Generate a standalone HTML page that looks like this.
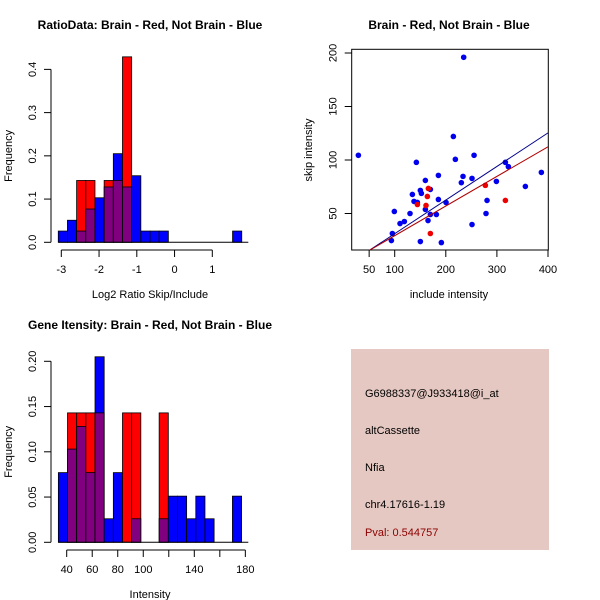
<!DOCTYPE html>
<html><head><meta charset="utf-8"><style>
body{margin:0;background:#fff}
svg{display:block;font-family:"Liberation Sans",sans-serif}
</style></head><body>
<svg id="c" width="600" height="600" viewBox="0 0 600 600">
<rect x="0" y="0" width="600" height="600" fill="#fff"/>
<text x="150" y="29" font-size="12" font-weight="bold" text-anchor="middle">RatioData: Brain - Red, Not Brain - Blue</text>
<text x="449" y="29" font-size="12" font-weight="bold" text-anchor="middle">Brain - Red, Not Brain - Blue</text>
<text x="150" y="329" font-size="12" font-weight="bold" text-anchor="middle">Gene Itensity: Brain - Red, Not Brain - Blue</text>
<g id="p1"></g>
<g id="p2"></g>
<g id="p3"></g>
<g>
<rect x="351" y="349" width="198" height="201" fill="#e6c8c2"/>
<text x="365" y="397" font-size="11">G6988337@J933418@i_at</text>
<text x="365" y="434" font-size="11">altCassette</text>
<text x="365" y="471" font-size="11">Nfia</text>
<text x="365" y="508" font-size="11">chr4.17616-1.19</text>
<text x="365" y="536" font-size="11" fill="#8b0000">Pval: 0.544757</text>
</g>
</svg>
<script>
// Ratio histogram data
const ratioBinStart = -3.08;
const ratioBinWidth = 0.243;
const ratioBlue = [0.026,0.051,0.026,0.077,0.103,0.128,0.205,0.128,0.154,0.026,0.026,0.026,0,0,0,0,0,0,0,0.026];
const ratioRed  = [0,0,0.143,0.143,0,0.143,0.143,0.429,0,0,0,0,0,0,0,0,0,0,0,0];
const ratioXTicks = [-3,-2,-1,0,1];
const ratioYTicks = [0,0.1,0.2,0.3,0.4];
const ratioYLabels = ["0.0","0.1","0.2","0.3","0.4"];
// Intensity histogram data
const intBinStart = 33.47;
const intBinWidth = 7.18;
const intBlue = [0.077,0.103,0.128,0.077,0.205,0.026,0.077,0,0.026,0,0,0.026,0.051,0.051,0.026,0.051,0.026,0,0,0.051];
const intRed  = [0,0.143,0.143,0.143,0.143,0,0,0.143,0.143,0,0,0.143,0,0,0,0,0,0,0,0];
const intXTicks = [40,60,80,100,120,140,160,180];
const intXLabels = ["40","60","80","100","","140","","180"];
const intYTicks = [0,0.05,0.10,0.15,0.20];
const intYLabels = ["0.00","0.05","0.10","0.15","0.20"];
// Scatter data
const blueX = [28.9,235,214.8,142.4,218.7,255.3,316.6,322.4,387,355.7,299,280.7,278.7,251.3,251.3,233.7,230.4,185.5,185.5,200.5,181.5,191.3,150.2,160,150.2,152.2,169.8,134.6,137.8,144.4,130,160,169.8,165.2,99.3,110.4,118.9,95.4,93.5];
const blueY = [104.4,196,122,97.8,100.6,104.4,97.8,93.8,88.4,75.3,80,62.2,50,39.7,82.8,84.7,78.8,85.6,63.1,60.3,49.1,22.8,23.8,80.9,71.6,68.8,72.5,67.8,61.3,60.3,50,53.8,49.1,43.4,51.9,40.6,42.5,31.3,24.7];
const redX = [144.4,163.9,165.9,161.3,169.8,277.4,316.6];
const redY = [58.4,65.9,73.4,57.5,31.3,76.3,62.2];
const blueFit = [-0.24,0.314];
const redFit = [1.57,0.277];
const scXTicks = [50,100,200,300,400];
const scYTicks = [50,100,150,200];

const NS="http://www.w3.org/2000/svg";
function mk(parent,tag,attrs,text){const e=document.createElementNS(NS,tag);for(const k in attrs)e.setAttribute(k,attrs[k]);if(text!==undefined)e.textContent=text;parent.appendChild(e);return e;}

function hist(g,x1,yAxisX,xAxisY,xs,ys,binStart,binW,blue,red,xt,xl,yt,yl,xtitle,xMin,xMax){
  blue.forEach((b,i)=>{
    const r=red[i];const L=xs(binStart+i*binW),R=xs(binStart+(i+1)*binW);
    const lo=Math.min(b,r),hi=Math.max(b,r);
    if(hi>0){
      const e=mk(g,'rect',{x:L,y:ys(hi),width:R-L,height:ys(0)-ys(hi),fill:b>=r?'#0000ff':'#ff0000',stroke:'#000','stroke-width':0.8});
      
      
    }
    if(lo>0){
      const e=mk(g,'rect',{x:L,y:ys(lo),width:R-L,height:ys(0)-ys(lo),fill:'#800080',stroke:'#000','stroke-width':0.8});
      
      
    }
  });
  const base=mk(g,'line',{x1:xs(binStart),x2:x1,y1:ys(0),y2:ys(0),stroke:'#000','stroke-width':1});
  
  
  const xa=mk(g,'g',{});
  
  
  mk(xa,'line',{x1:xs(xMin),x2:xs(xMax),y1:xAxisY,y2:xAxisY,stroke:'#000'});
  xt.forEach((t,i)=>{mk(xa,'line',{x1:xs(t),x2:xs(t),y1:xAxisY,y2:xAxisY+7,stroke:'#000'});
    if(xl[i])mk(xa,'text',{x:xs(t),y:xAxisY+23,'font-size':11,'text-anchor':'middle'},xl[i]);});
  const xtt=mk(g,'text',{x:150,y:xAxisY+48,'font-size':11,'text-anchor':'middle'},xtitle);
  
  
  const ya=mk(g,'g',{});
  
  
  mk(ya,'line',{x1:yAxisX,x2:yAxisX,y1:ys(yt[0]),y2:ys(yt[yt.length-1]),stroke:'#000'});
  yt.forEach((t,i)=>{mk(ya,'line',{x1:yAxisX-7,x2:yAxisX,y1:ys(t),y2:ys(t),stroke:'#000'});
    mk(ya,'text',{x:0,y:0,'font-size':11,'text-anchor':'middle',transform:`translate(${yAxisX-15},${ys(t)}) rotate(-90)`},yl[i]);});
  const yti=mk(g,'text',{x:0,y:0,'font-size':11,'text-anchor':'middle',transform:`translate(12,${(ys(0)+ys(yt[yt.length-1]))/2}) rotate(-90)`},'Frequency');
  
  
}

(function(){
  const g=document.getElementById('p1');
  const xs=v=>61.3+(v+3)*37.75;
  const ys=v=>242.3-v*432.3;
  hist(g,248.3,51,250,xs,ys,ratioBinStart,ratioBinWidth,ratioBlue,ratioRed,ratioXTicks,ratioXTicks.map(String),ratioYTicks,ratioYLabels,'Log2 Ratio Skip/Include',-3,1);
})();
(function(){
  const g=document.getElementById('p3');
  const xs=v=>66.7+(v-40)*1.276;
  const ys=v=>542.3-v*905;
  hist(g,248.3,51,550,xs,ys,intBinStart,intBinWidth,intBlue,intRed,intXTicks,intXLabels,intYTicks,intYLabels,'Intensity',40,180);
})();
(function(){
  const g=document.getElementById('p2');
  const xs=v=>394.7+(v-100)*0.511;
  const ys=v=>160-(v-100)*1.07;
  const L=351.7,R=548.3,T=49.3,B=250;
  const cp=mk(g,'clipPath',{id:'clipsc'});mk(cp,'rect',{x:L,y:T,width:R-L,height:B-T});
  const box=mk(g,'rect',{x:L,y:T,width:R-L,height:B-T,fill:'none',stroke:'#000'});
  
  
  blueX.forEach((x,i)=>{const c=mk(g,'circle',{cx:xs(x),cy:ys(blueY[i]),r:2.8,fill:'#0000ee'});
    
    });
  redX.forEach((x,i)=>{const c=mk(g,'circle',{cx:xs(x),cy:ys(redY[i]),r:2.8,fill:'#ee0000'});
    
    });
  [[blueFit,'#00008b','fit-line-blue'],[redFit,'#b00000','fit-line-red']].forEach(([f,col,nm])=>{
    const xa=0,xb=400;
    const l=mk(g,'line',{x1:xs(xa),y1:ys(f[0]+f[1]*xa),x2:xs(xb),y2:ys(f[0]+f[1]*xb),stroke:col,'stroke-width':1,'clip-path':'url(#clipsc)'});
    
    
  });
  const xa=mk(g,'g',{});
  
  
  scXTicks.forEach(t=>{mk(xa,'line',{x1:xs(t),x2:xs(t),y1:B,y2:B+7,stroke:'#000'});
    mk(xa,'text',{x:xs(t),y:B+23,'font-size':11,'text-anchor':'middle'},String(t));});
  const ya=mk(g,'g',{});
  
  
  scYTicks.forEach(t=>{mk(ya,'line',{x1:L-7,x2:L,y1:ys(t),y2:ys(t),stroke:'#000'});
    mk(ya,'text',{x:0,y:0,'font-size':11,'text-anchor':'middle',transform:`translate(${L-15},${ys(t)}) rotate(-90)`},String(t));});
  const xt=mk(g,'text',{x:449,y:298,'font-size':11,'text-anchor':'middle'},'include intensity');
  
  
  const yt=mk(g,'text',{x:0,y:0,'font-size':11,'text-anchor':'middle',transform:'translate(312,150) rotate(-90)'},'skip intensity');
  
  
})();
</script>
</body></html>
